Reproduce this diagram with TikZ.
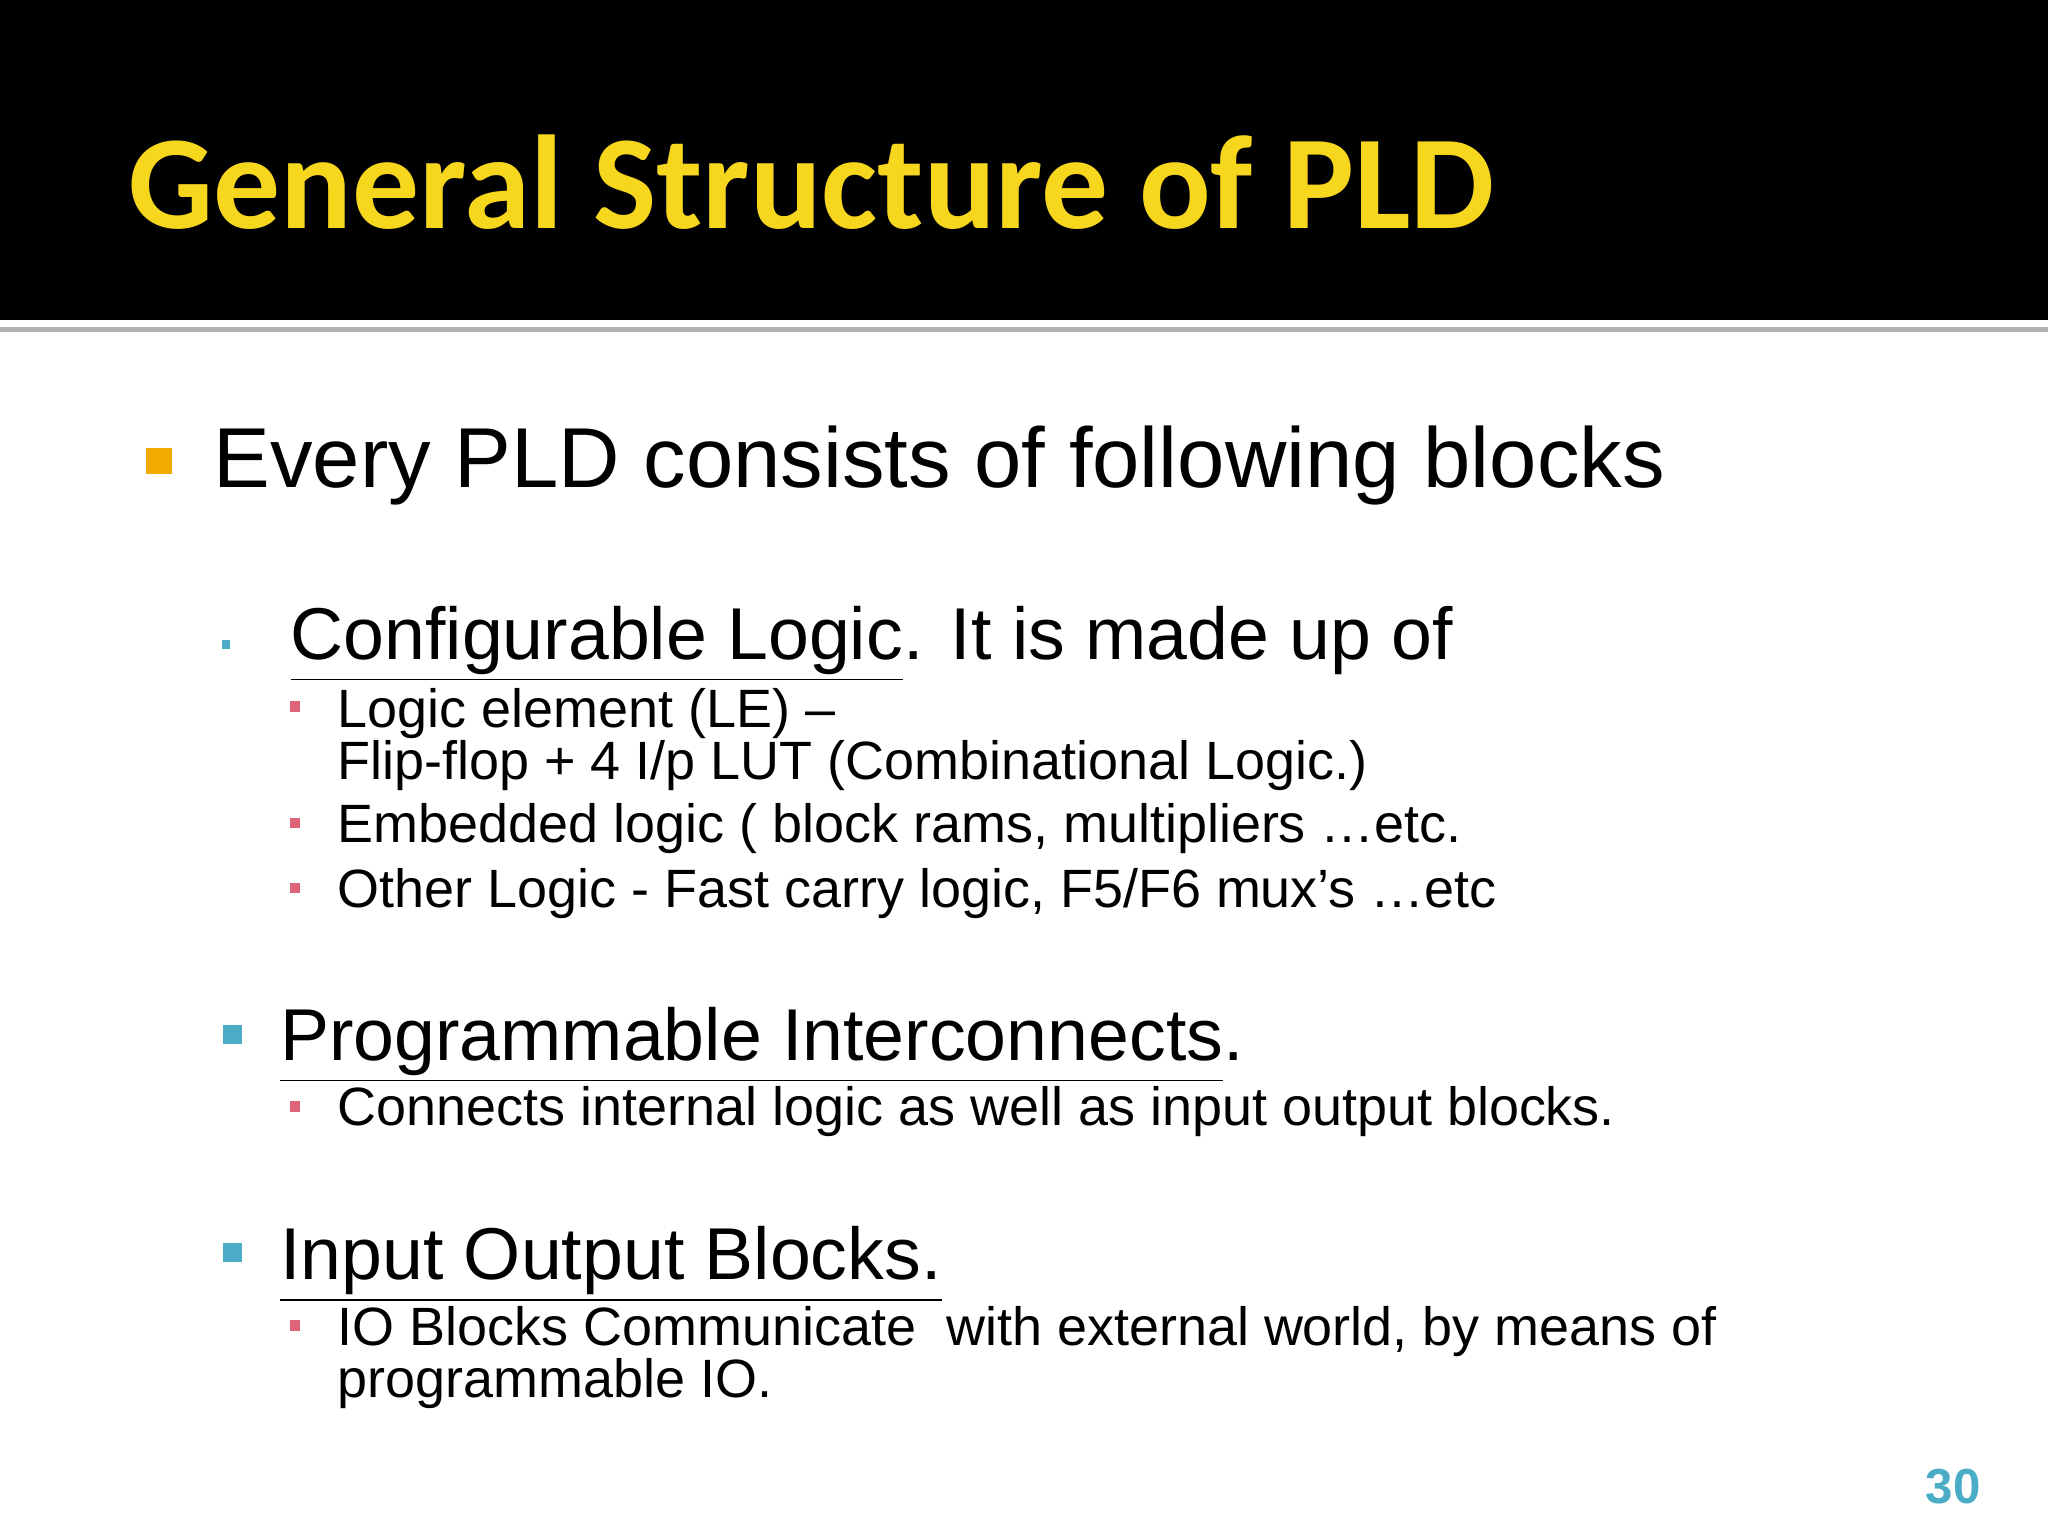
\documentclass[tikz,border=0pt]{standalone}
\usepackage{fontspec}
\setmainfont{Liberation Sans}
\newfontfamily\titlefont{Carlito}
\definecolor{ttl}{RGB}{247,214,30}
\definecolor{orn}{RGB}{240,170,0}
\definecolor{teal}{RGB}{75,172,198}
\definecolor{pnk}{RGB}{222,100,120}
\newcommand{\ul}[1]{\underline{#1}}
\begin{document}
\begin{tikzpicture}[x=0.013061cm,y=-0.013061cm,
  txt/.style={anchor=base west,inner sep=0pt,text=black},
  big/.style={txt,font=\fontsize{24.2}{29}\selectfont},
  mid/.style={txt,font=\fontsize{20.9}{25}\selectfont},
  sml/.style={txt,font=\fontsize{15.35}{18}\selectfont}]
\useasboundingbox (0,0) rectangle (1568,1176);
\fill[white] (0,0) rectangle (1568,1176);
\fill[black] (0,0) rectangle (1568,245);
\fill[gray!60] (0,250) rectangle (1568,254);
\node[anchor=base west,inner sep=0pt,text=ttl,font=\titlefont\bfseries\fontsize{38}{46}\selectfont] (title) at (98,175) {General Structure of PLD};
\fill[orn] (112,343) rectangle (132,363);
\node[big] (every) at (163,373) {Every PLD consists of following blocks};
\fill[teal] (170,490) rectangle (176,497);
\node[mid] (conf) at (222,505) {\ul{Configurable Logic}. It is made up of};
\fill[pnk] (222,537) rectangle (230,545);
\node[sml] (le) at (258,557) {Logic element (LE) --};
\node[sml] (le2) at (258,597) {Flip-flop + 4 I/p LUT (Combinational Logic.)};
\fill[pnk] (222,626) rectangle (230,634);
\node[sml] (emb) at (258,645) {Embedded logic ( block rams, multipliers \dots etc.};
\fill[pnk] (222,676) rectangle (230,684);
\node[sml] (oth) at (258,695) {Other Logic - Fast carry logic, F5/F6 mux’s \dots etc};
\fill[teal] (171,785) rectangle (185,799);
\node[mid] (prog) at (214,812) {\ul{Programmable Interconnects}.};
\fill[pnk] (222,843) rectangle (230,851);
\node[sml] (conn) at (258,862) {Connects internal logic as well as input output blocks.};
\fill[teal] (171,952) rectangle (185,966);
\node[mid] (io) at (214,980) {\ul{Input Output Blocks.}};
\fill[pnk] (222,1011) rectangle (230,1019);
\node[sml] (iob) at (258,1030) {IO Blocks Communicate\ \ with external world, by means of};
\node[sml] (iob2) at (258,1070) {programmable IO.};
\node[anchor=base east,inner sep=0pt,text=teal,font=\bfseries\fontsize{14}{16}\selectfont] (pg) at (1517,1151) {30};
\end{tikzpicture}
\end{document}
